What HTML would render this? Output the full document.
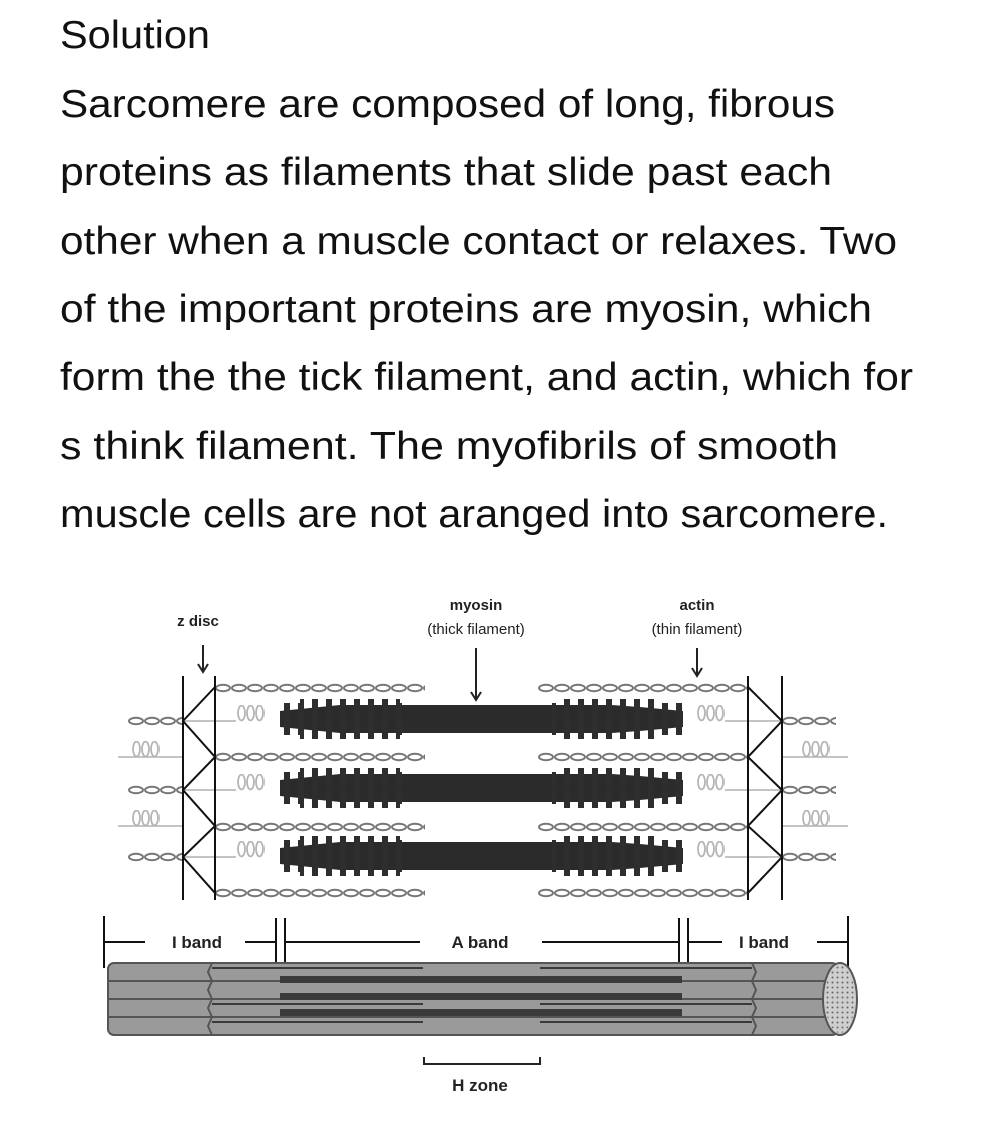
<!DOCTYPE html>
<html><head><meta charset="utf-8"><style>
html,body{margin:0;padding:0;background:#fff}
svg{display:block}
</style></head><body>
<svg width="1000" height="1130" viewBox="0 0 1000 1130" xmlns="http://www.w3.org/2000/svg">
<defs>
<pattern id="actin" x="0" y="0" width="16" height="10" patternUnits="userSpaceOnUse">
<ellipse cx="8" cy="5" rx="7" ry="3.2" fill="none" stroke="#777" stroke-width="2"/>
</pattern>
<pattern id="spring" x="0" y="0" width="9" height="18" patternUnits="userSpaceOnUse">
<ellipse cx="4.5" cy="8" rx="3.5" ry="7.5" fill="none" stroke="#b5b5b5" stroke-width="1.8"/>
</pattern>
<pattern id="bumps" x="0" y="0" width="14" height="40" patternUnits="userSpaceOnUse">
<rect x="4" y="0" width="6" height="40" rx="3" fill="#2e2e2e"/>
</pattern>
<pattern id="dots" x="0" y="0" width="5" height="5" patternUnits="userSpaceOnUse">
<circle cx="2.5" cy="2.5" r="1" fill="#666"/>
</pattern>
<g id="act210"><rect x="0" y="0" width="210" height="10" fill="url(#actin)"/></g>
<g id="act54"><rect x="0" y="0" width="54" height="10" fill="url(#actin)"/></g>
<g id="spr"><rect x="0" y="0" width="28" height="17" fill="url(#spring)"/></g>
<g id="myo">
<path d="M0 -8 L40 -12 L60 -14 L332 -14 L360 -12 L403 -8 L403 8 L360 12 L332 14 L60 14 L40 12 L0 8 Z" fill="#2b2b2b"/>
<rect x="2" y="-16" width="128" height="32" fill="url(#bumps)"/>
<rect x="272" y="-16" width="130" height="32" fill="url(#bumps)"/>
<rect x="20" y="-20" width="100" height="40" fill="url(#bumps)"/>
<rect x="282" y="-20" width="100" height="40" fill="url(#bumps)"/>
</g>
</defs>

<g font-family="Liberation Sans, sans-serif" fill="#111">
<text x="60" y="48" font-size="39" textLength="150" lengthAdjust="spacingAndGlyphs">Solution</text>
<text x="60" y="117" font-size="39" textLength="775" lengthAdjust="spacingAndGlyphs">Sarcomere are composed of long, fibrous</text>
<text x="60" y="185" font-size="39" textLength="772" lengthAdjust="spacingAndGlyphs">proteins as filaments that slide past each</text>
<text x="60" y="254" font-size="39" textLength="837" lengthAdjust="spacingAndGlyphs">other when a muscle contact or relaxes. Two</text>
<text x="60" y="322" font-size="39" textLength="812" lengthAdjust="spacingAndGlyphs">of the important proteins are myosin, which</text>
<text x="60" y="390" font-size="39" textLength="853" lengthAdjust="spacingAndGlyphs">form the the tick filament, and actin, which for</text>
<text x="60" y="459" font-size="39" textLength="778" lengthAdjust="spacingAndGlyphs">s think filament. The myofibrils of smooth</text>
<text x="60" y="527" font-size="39" textLength="828" lengthAdjust="spacingAndGlyphs">muscle cells are not aranged into sarcomere.</text>
</g>

<g font-family="Liberation Sans, sans-serif" fill="#222" text-anchor="middle" font-size="15">
<text x="198" y="626" font-weight="bold">z disc</text>
<text x="476" y="610" font-weight="bold">myosin</text>
<text x="476" y="634">(thick filament)</text>
<text x="697" y="610" font-weight="bold">actin</text>
<text x="697" y="634">(thin filament)</text>
</g>
<g stroke="#222" stroke-width="2" fill="none">
<line x1="203" y1="645" x2="203" y2="670"/><path d="M198 664 L203 672 L208 664"/>
<line x1="476" y1="648" x2="476" y2="698"/><path d="M471 692 L476 700 L481 692"/>
<line x1="697" y1="648" x2="697" y2="674"/><path d="M692 668 L697 676 L702 668"/>
</g>

<!-- actin -->
<use href="#act210" x="215" y="683"/><use href="#act210" x="215" y="752"/>
<use href="#act210" x="215" y="822"/><use href="#act210" x="215" y="888"/>
<use href="#act210" x="538" y="683"/><use href="#act210" x="538" y="752"/>
<use href="#act210" x="538" y="822"/><use href="#act210" x="538" y="888"/>
<use href="#act54" x="128" y="716"/><use href="#act54" x="128" y="785"/><use href="#act54" x="128" y="852"/>
<use href="#act54" x="782" y="716"/><use href="#act54" x="782" y="785"/><use href="#act54" x="782" y="852"/>

<!-- titin -->
<g stroke="#bbb" stroke-width="1.8" fill="none">
<line x1="183" y1="721" x2="236" y2="721"/><line x1="183" y1="790" x2="236" y2="790"/><line x1="183" y1="857" x2="236" y2="857"/>
<line x1="725" y1="721" x2="782" y2="721"/><line x1="725" y1="790" x2="782" y2="790"/><line x1="725" y1="857" x2="782" y2="857"/>
<line x1="118" y1="757" x2="183" y2="757"/><line x1="118" y1="826" x2="183" y2="826"/>
<line x1="782" y1="757" x2="848" y2="757"/><line x1="782" y1="826" x2="848" y2="826"/>
</g>
<use href="#spr" x="237" y="705"/><use href="#spr" x="237" y="774"/><use href="#spr" x="237" y="841"/>
<use href="#spr" x="697" y="705"/><use href="#spr" x="697" y="774"/><use href="#spr" x="697" y="841"/>
<use href="#spr" x="132" y="741"/><use href="#spr" x="132" y="810"/>
<use href="#spr" x="802" y="741"/><use href="#spr" x="802" y="810"/>

<!-- myosin -->
<use href="#myo" x="280" y="719"/>
<use href="#myo" x="280" y="788"/>
<use href="#myo" x="280" y="856"/>

<!-- z discs -->
<g stroke="#111" stroke-width="2" fill="none">
<line x1="183" y1="676" x2="183" y2="900"/>
<line x1="215" y1="676" x2="215" y2="900"/>
<polyline points="215,687 183,721 215,757 183,790 215,826 183,857 215,893"/>
<line x1="748" y1="676" x2="748" y2="900"/>
<line x1="782" y1="676" x2="782" y2="900"/>
<polyline points="748,687 782,721 748,757 782,790 748,826 782,857 748,893"/>
</g>

<!-- bands -->
<g stroke="#111" stroke-width="2" fill="none">
<line x1="104" y1="916" x2="104" y2="968"/><line x1="104" y1="942" x2="145" y2="942"/>
<line x1="245" y1="942" x2="275" y2="942"/>
<line x1="276" y1="918" x2="276" y2="966"/><line x1="285" y1="918" x2="285" y2="966"/>
<line x1="285" y1="942" x2="420" y2="942"/>
<line x1="542" y1="942" x2="678" y2="942"/>
<line x1="679" y1="918" x2="679" y2="966"/><line x1="688" y1="918" x2="688" y2="966"/>
<line x1="688" y1="942" x2="722" y2="942"/>
<line x1="817" y1="942" x2="848" y2="942"/><line x1="848" y1="916" x2="848" y2="968"/>
</g>
<g font-family="Liberation Sans, sans-serif" fill="#222" text-anchor="middle" font-size="17" font-weight="bold">
<text x="197" y="948">I band</text>
<text x="480" y="948">A band</text>
<text x="764" y="948">I band</text>
<text x="480" y="1091">H zone</text>
</g>

<!-- cylinder -->
<g>
<rect x="108" y="963" width="730" height="72" rx="6" fill="#9a9a9a" stroke="#555" stroke-width="2"/>
<g stroke="#555" stroke-width="2" fill="none">
<line x1="108" y1="981" x2="838" y2="981"/>
<line x1="108" y1="999" x2="838" y2="999"/>
<line x1="108" y1="1017" x2="838" y2="1017"/>
<polyline points="212,963 208,972 212,981 208,990 212,999 208,1008 212,1017 208,1026 212,1035"/>
<polyline points="752,963 756,972 752,981 756,990 752,999 756,1008 752,1017 756,1026 752,1035"/>
</g>
<g fill="#3a3a3a">
<rect x="280" y="976" width="402" height="7"/>
<rect x="280" y="993" width="402" height="7"/>
<rect x="280" y="1009" width="402" height="7"/>
<rect x="212" y="967" width="211" height="2"/><rect x="540" y="967" width="212" height="2"/>
<rect x="212" y="1003" width="211" height="2"/><rect x="540" y="1003" width="212" height="2"/>
<rect x="212" y="1021" width="211" height="2"/><rect x="540" y="1021" width="212" height="2"/>
</g>
<ellipse cx="840" cy="999" rx="17" ry="36" fill="#cfcfcf" stroke="#555" stroke-width="2"/>
<ellipse cx="840" cy="999" rx="15" ry="34" fill="url(#dots)"/>
</g>
<path d="M424 1057 L424 1064 L540 1064 L540 1057" stroke="#222" stroke-width="2" fill="none"/>
</svg>
</body></html>
